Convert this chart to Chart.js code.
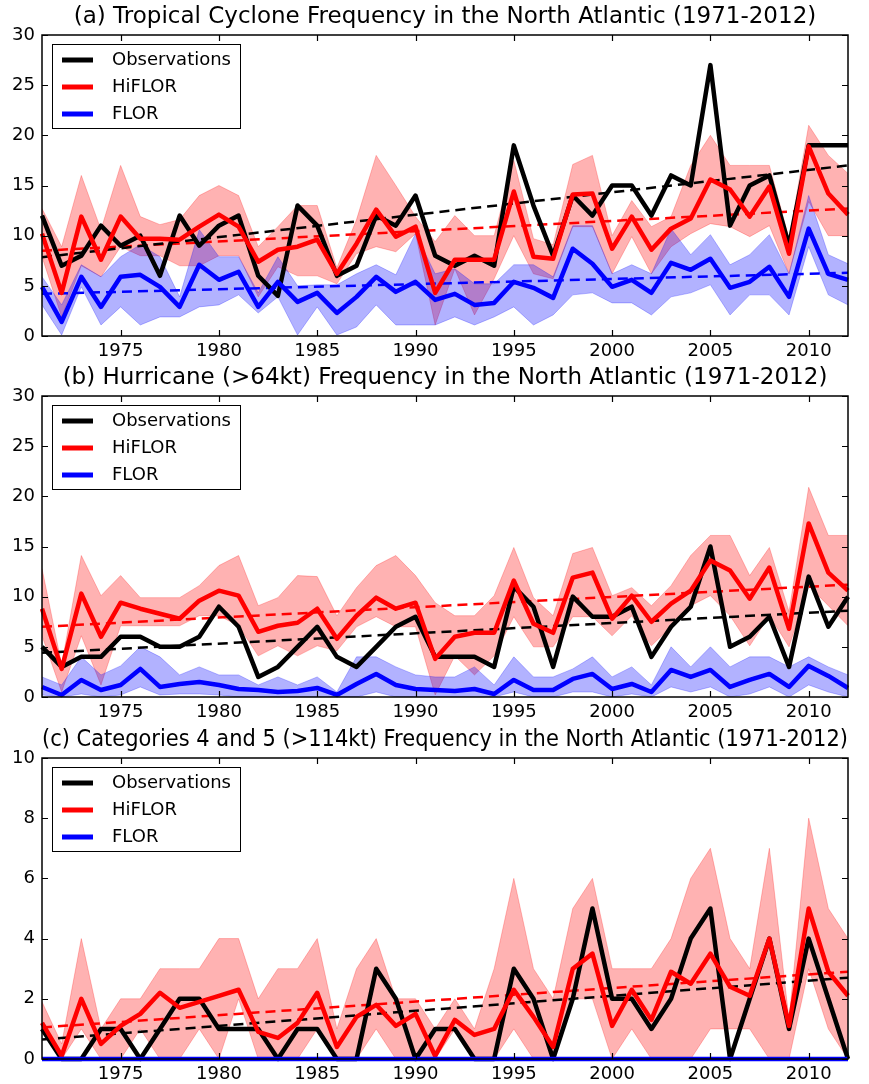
<!DOCTYPE html>
<html>
<head>
<meta charset="utf-8">
<script src="https://cdn.jsdelivr.net/npm/chart.js@4/dist/chart.umd.min.js"></script>
<style>
  html, body { margin: 0; padding: 0; background: #fff; overflow: hidden; }
  #wrap { position: relative; width: 869px; height: 1084px; background: #fff; }
  canvas { position: absolute; left: 0; }
</style>
</head>
<body>
<div id="wrap">
  <canvas id="panelA" width="869" height="362" style="top:0px;width:869px;height:362px"></canvas>
  <canvas id="panelB" width="869" height="362" style="top:361px;width:869px;height:362px"></canvas>
  <canvas id="panelC" width="869" height="362" style="top:723px;width:869px;height:362px"></canvas>
</div>
<script>
// Seasons 1971-2012
const years = [1971,1972,1973,1974,1975,1976,1977,1978,1979,1980,
               1981,1982,1983,1984,1985,1986,1987,1988,1989,1990,
               1991,1992,1993,1994,1995,1996,1997,1998,1999,2000,
               2001,2002,2003,2004,2005,2006,2007,2008,2009,2010,
               2011,2012];
const xTickYears = [1975, 1980, 1985, 1990, 1995, 2000, 2005, 2010];

// (a) Tropical cyclones
const obsA = [12,7,8,11,9,10,6,12,9,11, 12,6,4,13,11,6,7,12,11,14, 8,7,8,7,19,13,8,14,12,15, 15,12,16,15,27,11,15,16,9,19, 19,19];
const hiflorA = [10.2,4.3,11.9,7.6,11.9,9.7,9.7,9.6,10.9,12.1, 10.9,7.4,8.6,8.9,9.6,6.2,9.2,12.6,9.9,10.9, 4.3,7.6,7.6,7.6,14.4,7.9,7.7,14.1,14.2,8.7, 11.9,8.6,10.7,11.7,15.6,14.6,11.9,14.9,8.2,18.9, 14.2,12.1];
const hiflorHiA = [12.7,8.9,16,10.6,17,11.9,11.1,11.6,14,15, 14,8.9,10.9,13,13,6.8,11.6,18,15,11.9, 9.4,12,10,10,17.5,9.7,9.1,17.1,18,10, 13.5,10.9,11.9,17,20,17,17,17,9.7,21, 18,16.2];
const hiflorLoA = [7.9,1.9,7,5.9,8.9,8,8,7,7,8, 8,3.9,6.9,6,6,5.2,8.2,8.9,8.4,10.2, 1.1,6.7,2.1,5.7,10,6.2,5.7,10.9,10.9,6.2, 9.9,6.2,8.9,10.2,11.2,10.9,9.9,11,6.2,13.4, 10,10];
const florA = [4.9,1.4,5.9,2.9,5.9,6.1,4.9,2.9,7.1,5.6, 6.4,2.9,5.4,3.4,4.3,2.3,3.9,5.9,4.4,5.4, 3.6,4.2,3.1,3.3,5.4,4.8,3.8,8.7,7.2,4.9, 5.6,4.3,7.3,6.6,7.7,4.8,5.4,6.9,3.9,10.7, 6.2,5.6];
const florHiA = [5.9,3.1,7.1,5.9,7.9,9.1,7.9,3.9,10.6,7.9, 7.9,4.3,7.9,5.0,5.1,5.1,6.2,7.1,6.1,10.2, 6.2,6.7,5.2,5.2,7.1,7.1,5.9,11,11,6.2, 7.1,6.2,10.7,8.1,10.1,7.1,8.1,10.1,6.2,14, 8.1,7.2];
const florLoA = [3.1,0.1,4.9,1.1,2.9,1.1,1.9,1.9,2.9,3.1, 4.1,2.3,3.9,0.1,2.9,0.1,0.9,3.1,1.1,1.1, 1.1,1.9,1.1,1.9,2.9,1.1,2.1,4.1,4.3,3.3, 3.3,2.1,3.9,4.3,5.1,2.1,4.1,4.1,2.1,8.9, 4.1,3.1];
const obsTrendA = [7.85, 17.0];
const hiflorTrendA = [8.5, 12.7];
const florTrendA = [4.2, 6.3];

// (b) Hurricanes
const obsB = [5,3,4,4,6,6,5,5,6,9, 7,2,3,5,7,4,3,5,7,8, 4,4,4,3,11,9,3,10,8,8, 9,4,7,9,15,5,6,8,3,12, 7,10];
const hiflorB = [8.8,2.8,10.3,6.0,9.4,8.8,8.3,7.8,9.6,10.6, 10.1,6.5,7.1,7.4,8.8,5.8,8.1,9.9,8.8,9.4, 3.8,6.0,6.4,6.4,11.6,7.3,6.4,11.9,12.4,7.8, 10.1,7.5,9.3,10.6,13.6,12.6,9.8,12.9,6.8,17.3, 12.4,10.6];
const hiflorHiB = [12.8,3.2,14.1,10.1,12.1,9.9,9.9,9.9,11.1,13.1, 14.1,9.1,9.9,12.1,12,8.1,10.9,13.1,14.1,12.1, 9.4,8.1,8.1,10.1,14.9,9.9,8.1,14.3,14.9,10.1, 10.9,9.1,11.1,14.1,16.1,16.1,12.1,14.9,8.5,20.9, 16.1,16.1];
const hiflorLoB = [6.1,0.5,6.1,1.2,7.1,7.1,7.1,7.1,8.1,8.1, 7.1,4.1,5.1,4.1,5.1,4.6,7,8,7,7, 0.2,4.1,2.2,4.1,8,5,5,8,8,6.1, 8.1,5.1,7,9.1,10.1,8.1,5.1,8.1,5,11.1, 9.1,7.1];
const florB = [1.0,0.2,1.7,0.7,1.2,2.8,1.0,1.3,1.5,1.2, 0.8,0.7,0.5,0.6,0.9,0.2,1.3,2.3,1.2,0.8, 0.7,0.6,0.8,0.3,1.7,0.7,0.7,1.8,2.3,0.8, 1.3,0.5,2.7,2.0,2.7,1.0,1.7,2.3,1.0,3.1, 2.1,0.9];
const florHiB = [2,1.2,4,2.2,3.1,5,4,2.2,3,2.2, 2.2,1.2,2,1.2,2,0.5,4,4,3,2.2, 2,2,3,1.2,4,2,2,2.8,4,2, 3,1.2,5,3,5,3,4,4,3,4, 3,2.2];
const florLoB = [0.2,0,0.3,0,0.2,1,0.2,0.3,0.3,0.2, 0,0,0,0,0,0,0,0.5,0,0, 0,0,0,0,0.5,0,0,0.5,0.5,0, 0.3,0,1,0.5,1,0,0.3,1,0,1.2, 0.5,0];
const obsTrendB = [4.4, 8.6];
const hiflorTrendB = [7.0, 11.2];

// (c) Category 4 and 5 hurricanes
const obsC = [1,0,0,1,1,0,1,2,2,1, 1,1,0,1,1,0,0,3,2,0, 1,1,0,0,3,2,0,2,5,2, 2,1,2,4,5,0,2,4,1,4, 2,0];
const hiflorC = [1.2,0.1,2.0,0.5,1.1,1.5,2.2,1.7,1.9,2.1, 2.3,0.9,0.7,1.2,2.2,0.4,1.4,1.8,1.1,1.5, 0.1,1.3,0.8,1.0,2.3,1.4,0.4,3.0,3.5,1.1, 2.3,1.3,2.9,2.5,3.5,2.4,2.1,4.0,1.1,5.0, 2.9,2.1];
const hiflorHiC = [1.9,0.5,4,1,2,2,3,3,3,4, 4,2,3,3,4,1,3,4,2,2, 1,2,1,3,6,3,2,5,6,3, 3,3,4,6,7,4,3,7,1.3,8, 5,4];
const hiflorLoC = [1,0,1,0,0,1,0,0,1,0, 2,0,0,0,1,0,0,1,0,0, 0,1,0,0,1,0,0,2,2,0, 1,0,0,0,1,1,1,0,0,3, 1,0];
const florC = [0,0,0,0,0,0,0,0,0,0, 0,0,0,0,0,0,0,0,0,0, 0,0,0,0,0,0,0,0,0,0, 0,0,0,0,0,0,0,0,0,0, 0,0];
const obsTrendC = [0.65, 2.7];
const hiflorTrendC = [1.05, 2.9];

Chart.defaults.font.family = '"DejaVu Sans", sans-serif';
Chart.defaults.font.size = 18;
Chart.defaults.color = '#000';

const RED_BAND = 'rgba(255,0,0,0.3)';
const RED_EDGE = 'rgba(255,0,0,0.25)';
const BLUE_BAND = 'rgba(0,0,255,0.3)';
const BLUE_EDGE = 'rgba(0,0,255,0.25)';

// Axes frame with inward ticks on all four sides
const frameAndTicks = {
  id: 'frameAndTicks',
  afterDatasetsDraw(chart) {
    const { ctx, chartArea: a, scales: { x, y } } = chart;
    ctx.save();
    ctx.strokeStyle = '#000';
    ctx.lineWidth = 1.5;
    ctx.strokeRect(a.left, a.top, a.right - a.left, a.bottom - a.top);
    ctx.lineWidth = 1.2;
    ctx.beginPath();
    y.ticks.forEach(t => {
      const py = Math.round(y.getPixelForValue(t.value)) + 0.5;
      ctx.moveTo(a.left, py); ctx.lineTo(a.left + 6, py);
      ctx.moveTo(a.right, py); ctx.lineTo(a.right - 6, py);
    });
    x.ticks.forEach(t => {
      const px = Math.round(x.getPixelForValue(t.value)) + 0.5;
      ctx.moveTo(px, a.bottom); ctx.lineTo(px, a.bottom - 6);
      ctx.moveTo(px, a.top); ctx.lineTo(px, a.top + 6);
    });
    ctx.stroke();
    ctx.restore();
  }
};

// Boxed legend in the upper-left corner of the plot
const boxLegend = {
  id: 'boxLegend',
  afterDraw(chart) {
    const items = chart.data.datasets.filter(d => d.legendLabel);
    const { ctx, chartArea: a } = chart;
    const bx = Math.round(a.left) + 10, by = Math.round(a.top) + 9, bw = 188, bh = 84;
    ctx.save();
    ctx.fillStyle = '#fff';
    ctx.fillRect(bx, by, bw, bh);
    ctx.strokeStyle = '#000';
    ctx.lineWidth = 1;
    ctx.strokeRect(bx + 0.5, by + 0.5, bw, bh);
    ctx.font = '18px "DejaVu Sans"';
    ctx.textBaseline = 'middle';
    ctx.textAlign = 'left';
    items.forEach((d, i) => {
      const cy = by + 16 + i * 27;
      ctx.strokeStyle = d.borderColor;
      ctx.lineWidth = 5;
      ctx.beginPath();
      ctx.moveTo(bx + 10, cy);
      ctx.lineTo(bx + 41, cy);
      ctx.stroke();
      ctx.fillStyle = '#000';
      ctx.fillText(d.legendLabel, bx + 60, cy);
    });
    ctx.restore();
  }
};

const series = vals => years.map((yr, i) => ({ x: yr, y: vals[i] }));
const trend = ends => [{ x: years[0], y: ends[0] }, { x: years[years.length - 1], y: ends[1] }];

function buildPanel(canvasId, titleText, yMax, yStep, s) {
  const datasets = [
    { legendLabel: 'Observations', data: series(s.obs), borderColor: '#000000', borderWidth: 4.5, order: 3, clip: false },
    { legendLabel: 'HiFLOR', data: series(s.hi), borderColor: '#ff0000', borderWidth: 4.5, order: 2, clip: false },
    { legendLabel: 'FLOR', data: series(s.flor), borderColor: '#0000ff', borderWidth: 4.5, order: 1, clip: false },
    { data: series(s.hiLo), borderColor: RED_EDGE, borderWidth: 1, fill: false, order: 9 },
    { data: series(s.hiHi), borderColor: RED_EDGE, borderWidth: 1, backgroundColor: RED_BAND, fill: '-1', order: 9 }
  ];
  if (s.florHi) {
    datasets.push(
      { data: series(s.florLo), borderColor: BLUE_EDGE, borderWidth: 1, fill: false, order: 8 },
      { data: series(s.florHi), borderColor: BLUE_EDGE, borderWidth: 1, backgroundColor: BLUE_BAND, fill: '-1', order: 8 }
    );
  }
  const dashed = (ends, color) => ({ data: trend(ends), borderColor: color, borderWidth: 2.5, borderDash: [10, 6], fill: false, order: 5 });
  datasets.push(dashed(s.obsTrend, '#000000'), dashed(s.hiTrend, '#ff0000'));
  if (s.florTrend) datasets.push(dashed(s.florTrend, '#0000ff'));

  return new Chart(document.getElementById(canvasId), {
    type: 'line',
    data: { datasets },
    options: {
      responsive: false,
      animation: false,
      devicePixelRatio: 1,
      layout: { padding: { left: 0, right: 21, top: 0, bottom: 0 } },
      elements: {
        point: { radius: 0, hoverRadius: 0 },
        line: { tension: 0, borderJoinStyle: 'round', borderCapStyle: 'butt' }
      },
      plugins: {
        legend: { display: false },
        tooltip: { enabled: false },
        title: {
          display: true,
          text: titleText,
          fullSize: false,
          color: '#000',
          font: { family: '"DejaVu Sans", sans-serif', size: 23, weight: 'normal' },
          padding: { top: 3.5, bottom: 3.9 }
        }
      },
      scales: {
        x: {
          type: 'linear',
          min: years[0],
          max: years[years.length - 1],
          afterBuildTicks: sc => { sc.ticks = xTickYears.map(v => ({ value: v })); },
          afterFit: sc => { sc.height = 26; },
          ticks: { callback: v => String(v), maxRotation: 0, autoSkip: false, padding: 5, color: '#000', font: { size: 18 } },
          grid: { display: false, drawTicks: false },
          border: { display: false }
        },
        y: {
          min: 0,
          max: yMax,
          afterFit: sc => { sc.width = 42; },
          ticks: { stepSize: yStep, padding: 7, color: '#000', font: { size: 18 } },
          grid: { display: false, drawTicks: false },
          border: { display: false }
        }
      }
    },
    plugins: [frameAndTicks, boxLegend]
  });
}

buildPanel('panelA', '(a) Tropical Cyclone Frequency in the North Atlantic (1971-2012)', 30, 5, {
  obs: obsA, hi: hiflorA, hiHi: hiflorHiA, hiLo: hiflorLoA,
  flor: florA, florHi: florHiA, florLo: florLoA,
  obsTrend: obsTrendA, hiTrend: hiflorTrendA, florTrend: florTrendA
});

buildPanel('panelB', '(b) Hurricane (>64kt) Frequency in the North Atlantic (1971-2012)', 30, 5, {
  obs: obsB, hi: hiflorB, hiHi: hiflorHiB, hiLo: hiflorLoB,
  flor: florB, florHi: florHiB, florLo: florLoB,
  obsTrend: obsTrendB, hiTrend: hiflorTrendB
});

buildPanel('panelC', '(c) Categories 4 and 5 (>114kt) Frequency in the North Atlantic (1971-2012)', 10, 2, {
  obs: obsC, hi: hiflorC, hiHi: hiflorHiC, hiLo: hiflorLoC,
  flor: florC,
  obsTrend: obsTrendC, hiTrend: hiflorTrendC
});
</script>
</body>
</html>
